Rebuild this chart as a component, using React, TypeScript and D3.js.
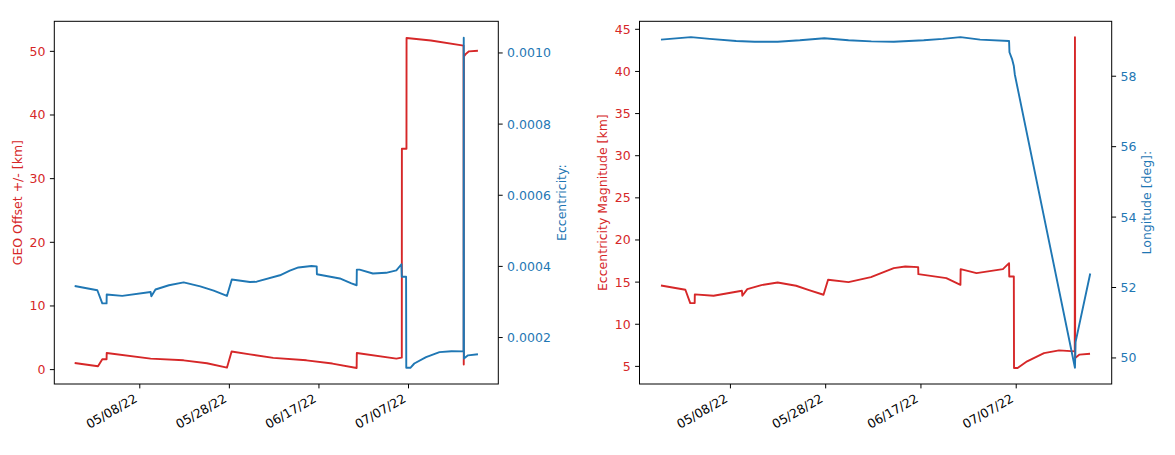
import React from 'react';
import * as d3 from 'd3';

type Point = [string, number];

// GEO offset +/- [km] (left panel, left axis)
const geoOffsetKm: Point[] = [
  ['2022-04-23T11:00', 1.04], ['2022-04-28T16:00', 0.52], ['2022-04-29T15:00', 1.62],
  ['2022-04-30T14:00', 1.62], ['2022-04-30T14:40', 2.61], ['2022-05-10T10:00', 1.73],
  ['2022-05-17T19:00', 1.46], ['2022-05-23T00:00', 1.0], ['2022-05-27T11:00', 0.31],
  ['2022-05-28T12:00', 2.85], ['2022-06-01T14:00', 2.4], ['2022-06-06T19:00', 1.85],
  ['2022-06-14T05:00', 1.46], ['2022-06-20T00:00', 0.95], ['2022-06-25T10:00', 0.25],
  ['2022-06-25T11:00', 2.61], ['2022-07-04T07:00', 1.73], ['2022-07-05T10:00', 1.89],
  ['2022-07-05T12:00', 1.9], ['2022-07-05T12:30', 34.7], ['2022-07-06T13:00', 34.7],
  ['2022-07-06T13:30', 52.1], ['2022-07-12T00:00', 51.7], ['2022-07-19T07:00', 50.9],
  ['2022-07-19T08:00', 0.8], ['2022-07-19T09:00', 49.2], ['2022-07-19T19:00', 49.6],
  ['2022-07-20T12:00', 50.0], ['2022-07-22T12:00', 50.1],
];

// Eccentricity (left panel, right axis)
const eccentricity: Point[] = [
  ['2022-04-23T11:00', 0.000345], ['2022-04-28T12:30', 0.000333], ['2022-04-29T15:00', 0.000296],
  ['2022-04-30T14:00', 0.000296], ['2022-04-30T14:40', 0.000321], ['2022-05-04T02:00', 0.000317],
  ['2022-05-10T10:00', 0.000328], ['2022-05-10T14:00', 0.000316], ['2022-05-11T12:00', 0.000335],
  ['2022-05-14T12:00', 0.000347], ['2022-05-17T19:00', 0.000355], ['2022-05-21T12:00', 0.000344],
  ['2022-05-24T12:00', 0.000332], ['2022-05-27T11:00', 0.000317], ['2022-05-28T13:00', 0.000363],
  ['2022-06-01T14:00', 0.000356], ['2022-06-03T02:00', 0.000357], ['2022-06-08T07:00', 0.000375],
  ['2022-06-10T12:00', 0.000388], ['2022-06-12T10:00', 0.000397], ['2022-06-15T08:00', 0.000401],
  ['2022-06-16T12:00', 0.0004], ['2022-06-16T13:00', 0.000378], ['2022-06-21T16:00', 0.000366],
  ['2022-06-24T06:00', 0.000352], ['2022-06-25T10:00', 0.000347], ['2022-06-25T11:00', 0.000391],
  ['2022-06-26T02:00', 0.000391], ['2022-06-29T01:00', 0.00038], ['2022-07-02T00:00', 0.000382],
  ['2022-07-04T07:00', 0.000389], ['2022-07-05T10:00', 0.000406], ['2022-07-05T12:00', 0.000371],
  ['2022-07-06T11:00', 0.000371], ['2022-07-06T12:00', 0.000115], ['2022-07-07T10:00', 0.000115],
  ['2022-07-08T07:00', 0.000127], ['2022-07-10T22:00', 0.000145], ['2022-07-13T22:00', 0.000159],
  ['2022-07-16T14:00', 0.0001615], ['2022-07-19T07:00', 0.000161], ['2022-07-19T08:00', 0.001043],
  ['2022-07-19T09:00', 0.000141], ['2022-07-20T07:00', 0.00015], ['2022-07-22T12:00', 0.000153],
];

// Eccentricity magnitude [km] (right panel, left axis)
const eccMagnitudeKm: Point[] = [
  ['2022-04-23T10:00', 14.6], ['2022-04-28T13:00', 14.09], ['2022-04-29T13:30', 12.51],
  ['2022-04-30T12:00', 12.51], ['2022-04-30T12:30', 13.54], ['2022-05-04T11:00', 13.38],
  ['2022-05-10T10:00', 13.97], ['2022-05-10T12:00', 13.38], ['2022-05-11T13:00', 14.17],
  ['2022-05-14T12:00', 14.65], ['2022-05-17T22:00', 14.96], ['2022-05-21T19:00', 14.57],
  ['2022-05-24T12:00', 14.05], ['2022-05-27T13:00', 13.5], ['2022-05-28T12:00', 15.28],
  ['2022-06-01T19:00', 15.0], ['2022-06-06T12:00', 15.6], ['2022-06-11T07:00', 16.66],
  ['2022-06-13T17:00', 16.86], ['2022-06-16T10:00', 16.78], ['2022-06-16T11:00', 15.95],
  ['2022-06-22T08:00', 15.47], ['2022-06-25T07:00', 14.68], ['2022-06-25T08:00', 16.54],
  ['2022-06-28T16:00', 16.07], ['2022-07-04T05:00', 16.54], ['2022-07-05T12:00', 17.25],
  ['2022-07-05T13:00', 15.67], ['2022-07-06T12:00', 15.67], ['2022-07-06T13:00', 4.8],
  ['2022-07-07T07:00', 4.8], ['2022-07-09T07:00', 5.6], ['2022-07-12T20:00', 6.58],
  ['2022-07-16T00:00', 6.9], ['2022-07-19T07:00', 6.78], ['2022-07-19T08:00', 44.05],
  ['2022-07-19T09:00', 6.0], ['2022-07-20T07:00', 6.4], ['2022-07-22T12:00', 6.5],
];

// Longitude [deg] (right panel, right axis)
const longitudeDeg: Point[] = [
  ['2022-04-23T10:00', 59.04], ['2022-04-29T17:00', 59.11], ['2022-05-03T16:00', 59.06],
  ['2022-05-09T05:00', 59.0], ['2022-05-13T02:00', 58.98], ['2022-05-17T22:00', 58.98],
  ['2022-05-22T14:00', 59.02], ['2022-05-27T17:00', 59.08], ['2022-06-01T19:00', 59.02],
  ['2022-06-06T14:00', 58.99], ['2022-06-11T07:00', 58.98], ['2022-06-17T14:00', 59.02],
  ['2022-06-21T14:00', 59.06], ['2022-06-25T07:00', 59.11], ['2022-06-29T10:00', 59.04],
  ['2022-07-05T12:00', 59.0], ['2022-07-05T14:00', 58.68], ['2022-07-06T04:00', 58.47],
  ['2022-07-06T12:00', 58.29], ['2022-07-06T17:00', 58.05], ['2022-07-19T08:00', 49.72],
  ['2022-07-19T11:00', 50.45], ['2022-07-22T13:00', 52.4],
];

const xTickDates = ['2022-05-08T00:00', '2022-05-28T00:00', '2022-06-17T00:00', '2022-07-07T00:00'];
const geoTicks = [0, 10, 20, 30, 40, 50];
const eccTicks = [0.0002, 0.0004, 0.0006, 0.0008, 0.001];
const magTicks = [5, 10, 15, 20, 25, 30, 35, 40, 45];
const lonTicks = [50, 52, 54, 56, 58];

const RED = '#d62728';
const BLUE = '#1f77b4';
const FONT = '"DejaVu Sans", sans-serif';
const FS = 12.5;
const TICK = 4.4;
const PAD = 4.4;
const TOP = 21.3;
const BOTTOM = 384;

const parse = d3.timeParse('%Y-%m-%dT%H:%M');
const toData = (s: Point[]) => s.map(([t, v]) => [parse(t) as Date, v] as [Date, number]);

const allDates = [...geoOffsetKm, ...eccentricity, ...eccMagnitudeKm, ...longitudeDeg].map(d => parse(d[0]) as Date);
const [t0, t1] = d3.extent(allDates) as [Date, Date];
const span = +t1 - +t0;
const xDomain: [Date, Date] = [new Date(+t0 - span * 0.05), new Date(+t1 + span * 0.05)];

interface PanelProps {
  left: number;
  right: number;
  leftData: Point[];
  rightData: Point[];
  leftDomain: [number, number];
  rightDomain: [number, number];
  leftTicks: number[];
  rightTicks: number[];
  leftFmt: (v: number) => string;
  rightFmt: (v: number) => string;
  leftLabel: string;
  rightLabel: string;
  leftLabelX: number;
  rightLabelX: number;
}

function Panel(p: PanelProps) {
  const x = d3.scaleTime().domain(xDomain).range([p.left, p.right]);
  const yL = d3.scaleLinear().domain(p.leftDomain).range([BOTTOM, TOP]);
  const yR = d3.scaleLinear().domain(p.rightDomain).range([BOTTOM, TOP]);
  const lineL = d3.line<[Date, number]>().x(d => x(d[0])).y(d => yL(d[1]));
  const lineR = d3.line<[Date, number]>().x(d => x(d[0])).y(d => yR(d[1]));
  const midY = (TOP + BOTTOM) / 2;
  const fmtDate = d3.timeFormat('%m/%d/%y');

  return (
    <g fontFamily={FONT} fontSize={FS}>
      <path d={lineL(toData(p.leftData)) ?? ''} fill="none" stroke={RED} strokeWidth={1.9} strokeLinejoin="round" />
      <path d={lineR(toData(p.rightData)) ?? ''} fill="none" stroke={BLUE} strokeWidth={1.9} strokeLinejoin="round" />
      <rect x={p.left} y={TOP} width={p.right - p.left} height={BOTTOM - TOP} fill="none" stroke="#000" strokeWidth={1} />

      {p.leftTicks.map(v => (
        <g key={'l' + v}>
          <line x1={p.left - TICK} x2={p.left} y1={yL(v)} y2={yL(v)} stroke="#000" />
          <text x={p.left - TICK - PAD} y={yL(v)} dy="0.36em" textAnchor="end" fill={RED}>{p.leftFmt(v)}</text>
        </g>
      ))}
      {p.rightTicks.map(v => (
        <g key={'r' + v}>
          <line x1={p.right} x2={p.right + TICK} y1={yR(v)} y2={yR(v)} stroke="#000" />
          <text x={p.right + TICK + PAD} y={yR(v)} dy="0.36em" textAnchor="start" fill={BLUE}>{p.rightFmt(v)}</text>
        </g>
      ))}
      {xTickDates.map(s => {
        const t = parse(s) as Date;
        const tx = x(t);
        return (
          <g key={s}>
            <line x1={tx} x2={tx} y1={BOTTOM} y2={BOTTOM + TICK} stroke="#000" />
            <text transform={`translate(${tx - 6.5},${BOTTOM + TICK + PAD}) rotate(-30)`} dy="0.76em" textAnchor="end" fill="#000">
              {fmtDate(t)}
            </text>
          </g>
        );
      })}

      <text transform={`translate(${p.leftLabelX},${midY}) rotate(-90)`} textAnchor="middle" dominantBaseline="central" fill={RED}>
        {p.leftLabel}
      </text>
      <text transform={`translate(${p.rightLabelX},${midY}) rotate(-90)`} textAnchor="middle" dominantBaseline="central" fill={BLUE}>
        {p.rightLabel}
      </text>
    </g>
  );
}

export default function App() {
  return (
    <svg width={1175} height={455} style={{ position: 'absolute', left: 0, top: 0, background: '#fff' }}>
      <rect width={1175} height={455} fill="#fff" />
      <Panel
        left={54.3}
        right={498.3}
        leftData={geoOffsetKm}
        rightData={eccentricity}
        leftDomain={[-2.26, 54.72]}
        rightDomain={[0.0000694, 0.001089]}
        leftTicks={geoTicks}
        rightTicks={eccTicks}
        leftFmt={v => String(v)}
        rightFmt={v => v.toFixed(4)}
        leftLabel="GEO Offset +/- [km]"
        rightLabel="Eccentricity:"
        leftLabelX={17}
        rightLabelX={561}
      />
      <Panel
        left={639.5}
        right={1111.7}
        leftData={eccMagnitudeKm}
        rightData={longitudeDeg}
        leftDomain={[2.91, 45.95]}
        rightDomain={[49.26, 59.56]}
        leftTicks={magTicks}
        rightTicks={lonTicks}
        leftFmt={v => String(v)}
        rightFmt={v => String(v)}
        leftLabel="Eccentricity Magnitude [km]"
        rightLabel="Longitude [deg]:"
        leftLabelX={602}
        rightLabelX={1146}
      />
    </svg>
  );
}
